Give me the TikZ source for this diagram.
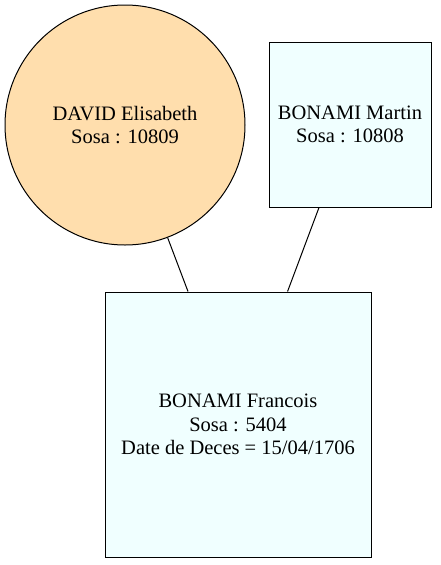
\documentclass[tikz,border=0pt]{standalone}
\usepackage{fontspec}
\setmainfont{Liberation Serif}
\usepackage{tikz}

\begin{document}
\begin{tikzpicture}[x=1pt,y=-1pt,line width=1pt,
    font=\fontsize{20.5}{23.5}\selectfont,
    person/.style={draw,align=center,inner sep=0pt}]

    % Fix the page to the reference size
    \useasboundingbox (0,0) rectangle (440,565);

    % The two parents
    \node[person,circle,fill={rgb,255:red,255;green,222;blue,173},minimum size=240pt]
        (david) at (125,125) {DAVID Elisabeth\\Sosa : 10809};
    \node[person,rectangle,fill={rgb,255:red,240;green,255;blue,255},
        minimum width=162pt,minimum height=165pt]
        (martin) at (350,124.5) {BONAMI Martin\\Sosa : 10808};

    % The child
    \node[person,rectangle,fill={rgb,255:red,240;green,255;blue,255},
        minimum width=266pt,minimum height=265pt]
        (francois) at (238,424.5) {BONAMI Francois\\Sosa : 5404\\Date de Deces = 15/04/1706};

    % Links between parents and child
    \draw (david) -- (francois);
    \draw (martin) -- (francois);

\end{tikzpicture}
\end{document}
